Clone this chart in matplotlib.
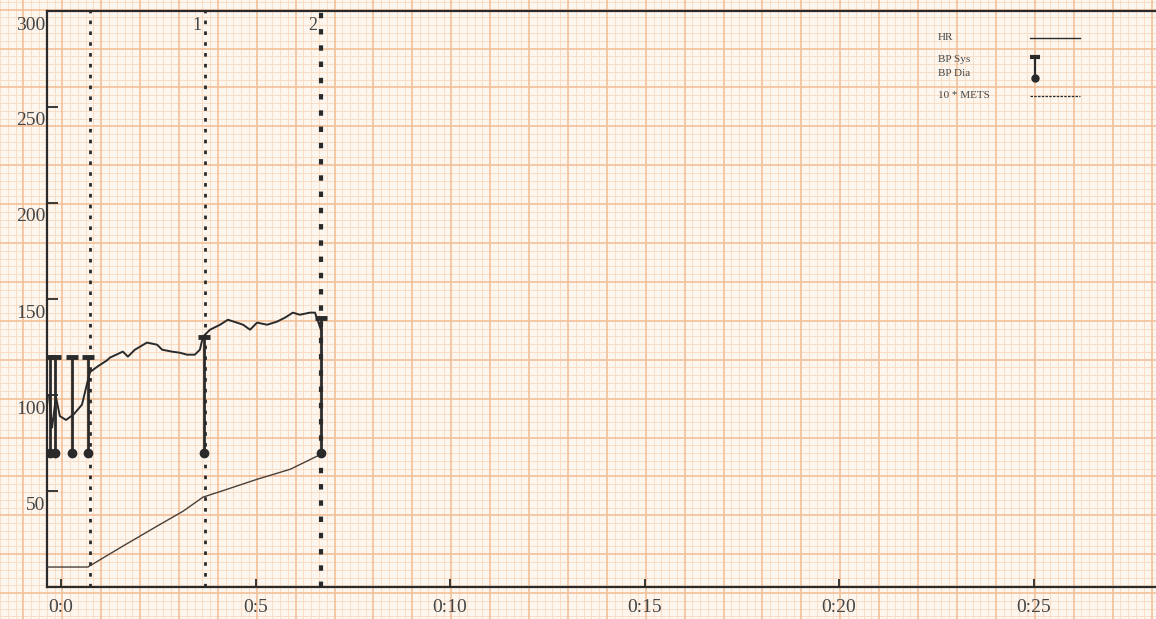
import numpy as np
import matplotlib
matplotlib.use("Agg")
import matplotlib.pyplot as plt
from matplotlib.lines import Line2D
from matplotlib.transforms import ScaledTranslation

# ---------------- data (time in minutes) ----------------
hr_time = [-0.31, -0.23, -0.13, -0.03, 0.13, 0.33, 0.54, 0.67, 0.75, 0.95, 1.18, 1.26,
           1.59, 1.72, 1.90, 2.21, 2.47, 2.60, 2.85, 3.06, 3.24, 3.44, 3.57, 3.65,
           3.83, 4.09, 4.29, 4.52, 4.68, 4.86, 5.04, 5.30, 5.55, 5.76, 5.96, 6.14,
           6.40, 6.53, 6.61, 6.68]
hr_value = [100, 83, 99, 89, 87, 90, 95, 106, 112, 115, 118, 119.5,
            122.6, 120, 123.6, 127.3, 126.2, 123.6, 122.6, 122, 121, 121, 123.6, 130.4,
            134, 136.6, 139.2, 137.7, 136.6, 134, 137.7, 136.6, 138.2, 140.3, 142.9, 141.8,
            142.9, 142.9, 138.2, 134]

bp_time = [-0.28, -0.15, 0.28, 0.70, 3.68, 6.68]
bp_sys = [120, 120, 120, 120, 130, 140]
bp_dia = [70, 70, 70, 70, 70, 70]

mets_time = [-0.36, 0.69, 1.59, 2.47, 3.14, 3.65, 4.27, 5.04, 5.89, 6.68]
mets_x10 = [10.4, 10.4, 21.3, 31.7, 39.5, 46.8, 50.9, 56.1, 61.3, 69.1]

marker_time = [0.75, 3.70, 6.68]
marker_label = ["", "1", "2"]
marker_width = [2.0, 2.0, 3.0]

x_ticks = [0, 5, 10, 15, 20, 25]
x_tick_labels = ["0:0", "0:5", "0:10", "0:15", "0:20", "0:25"]
y_ticks = [50, 100, 150, 200, 250, 300]

legend_labels = ["HR", "BP Sys", "BP Dia", "10 * METS"]

# ---------------- figure ----------------
W, H = 1156, 619
fig = plt.figure(figsize=(W / 100, H / 100), dpi=100)
fig.patch.set_facecolor("#fdf6ee")
serif = ["Liberation Serif", "DejaVu Serif"]
txt_col = "#454545"
ink = "#2a2a2a"

# ECG-paper background grid
bg = fig.add_axes([0, 0, 1, 1], zorder=-5)
bg.set_xlim(0, W)
bg.set_ylim(H, 0)
bg.axis("off")
minor = 38.9 / 5
maj_col, min_col = "#f1c09a", "#f8ddc6"
for k in range(-10, 200):
    x = 23.4 + k * minor
    if 0 <= x <= W:
        major = (k % 5 == 0)
        bg.axvline(x, color=maj_col if major else min_col,
                   lw=1.2 if major else 0.7, zorder=1 if major else 0)
for k in range(-10, 120):
    y = 9.6 + k * minor
    if 0 <= y <= H:
        major = (k % 5 == 0)
        bg.axhline(y, color=maj_col if major else min_col,
                   lw=1.2 if major else 0.7, zorder=1 if major else 0)

# main axes
ax_left, ax_right, ax_top, ax_bot = 47, W, 11, 587
ax = fig.add_axes([ax_left / W, (H - ax_bot) / H, (ax_right - ax_left) / W, (ax_bot - ax_top) / H])
ax.set_facecolor("none")
px_per_min = 38.9
x0 = -0.36
ax.set_xlim(x0, x0 + (ax_right - ax_left) / px_per_min)
ax.set_ylim(0, 300)

for s in ["left", "bottom", "top"]:
    ax.spines[s].set_color(ink)
    ax.spines[s].set_linewidth(1.6)
ax.spines["right"].set_visible(False)

ax.set_xticks(x_ticks)
ax.set_xticklabels(x_tick_labels, fontfamily=serif, fontsize=14, color=txt_col)
ax.set_yticks(y_ticks)
ax.set_yticklabels([str(v) for v in y_ticks], fontfamily=serif, fontsize=14, color=txt_col)
ax.tick_params(axis="x", direction="in", length=6, width=1.3, color=ink, pad=9)
ax.tick_params(axis="y", direction="in", length=8, width=1.3, color=ink, pad=1)
off = ScaledTranslation(0, -0.12, fig.dpi_scale_trans)
for lab in ax.get_yticklabels():
    lab.set_transform(lab.get_transform() + off)

# stage markers
for t, lab, lw in zip(marker_time, marker_label, marker_width):
    ax.axvline(t, color=ink, lw=lw, ls=(0, (1.3, 2.6)), zorder=2)
    if lab:
        ax.text(t - 0.08, 292.5, lab, ha="right", va="center", fontfamily=serif,
                fontsize=13, color=txt_col)

# METS line
ax.plot(mets_time, mets_x10, color="#4a3f38", lw=1.0, zorder=3)

# HR line
ax.plot(hr_time, hr_value, color=ink, lw=1.4, zorder=4)

# BP bars
ax.vlines(bp_time, bp_dia, bp_sys, color=ink, lw=2.0, zorder=5)
ax.plot(bp_time, bp_sys, ls="none", marker="_", ms=8, mew=3.5, color=ink, zorder=6)
ax.plot(bp_time, bp_dia, ls="none", marker="o", ms=6, color=ink, zorder=6)

# legend (labels on the left, symbols on the right)
def fx(px):
    return px / W

def fy(py):
    return 1 - py / H

for lab, py in zip(legend_labels, [38, 59, 73, 95]):
    fig.text(fx(938), fy(py), lab, fontfamily=serif, fontsize=8, color=txt_col,
             va="center", ha="left")
fig.add_artist(Line2D([fx(1030), fx(1080)], [fy(38), fy(38)], color=ink, lw=1.0))
fig.add_artist(Line2D([fx(1035), fx(1035)], [fy(57), fy(78)], color=ink, lw=1.6))
fig.add_artist(Line2D([fx(1035)], [fy(57)], marker="_", ms=7, mew=3, color=ink))
fig.add_artist(Line2D([fx(1035)], [fy(78)], marker="o", ms=5, color=ink))
fig.add_artist(Line2D([fx(1030), fx(1080)], [fy(96), fy(96)], color=ink, lw=0.9,
                      ls=(0, (2, 1))))

fig.savefig("out.png", dpi=100, facecolor=fig.get_facecolor())
